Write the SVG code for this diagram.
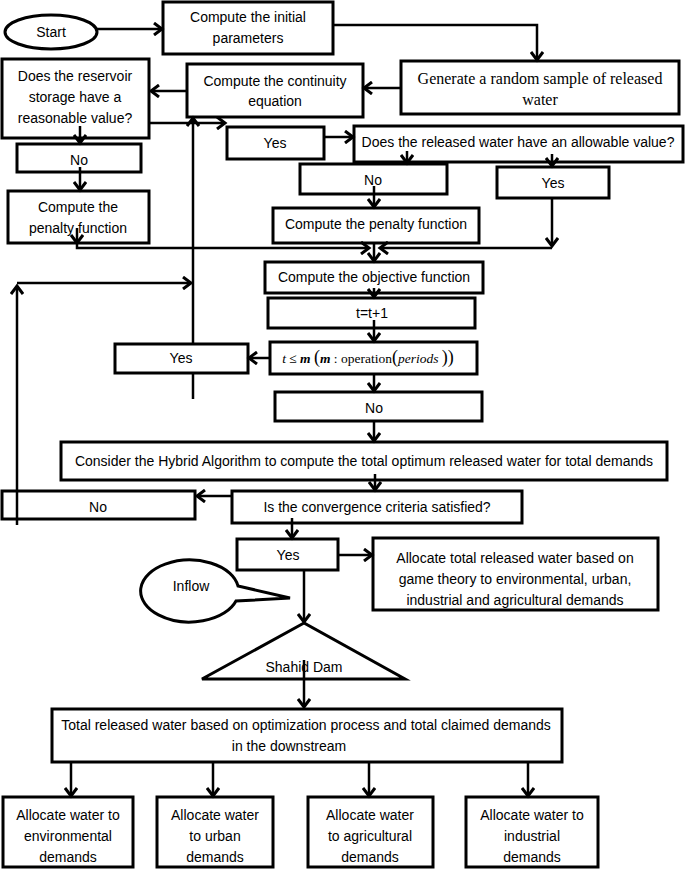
<svg xmlns="http://www.w3.org/2000/svg" width="685" height="870" viewBox="0 0 685 870">
<style>
.box{fill:#fff;stroke:#000;stroke-width:3}
.t{font-family:"Liberation Sans",Arial,sans-serif;font-size:14px;fill:#000;text-anchor:middle}
.s{font-family:"Liberation Serif","Times New Roman",serif;font-size:16px;fill:#000;text-anchor:middle}
.c{fill:none;stroke:#000;stroke-width:2.5}
.a{fill:none;stroke:#000;stroke-width:2.5;marker-end:url(#ah)}
</style>
<defs>
<marker id="ah" markerUnits="userSpaceOnUse" markerWidth="14" markerHeight="14" viewBox="0 0 14 14" refX="11" refY="7" orient="auto">
<path d="M3,1 L11,7 L3,13" fill="none" stroke="#000" stroke-width="3"/>
</marker>
</defs>
<rect width="685" height="870" fill="#fff"/>
<g id="start"><ellipse class="box" cx="51" cy="32" rx="46" ry="17"/><text class="t" x="51" y="37">Start</text></g>
<g id="initial"><rect class="box" x="163" y="2" width="170" height="52"/><text class="t" x="248" y="22">Compute the initial</text><text class="t" x="248" y="43">parameters</text></g>
<g id="generate"><rect class="box" x="401" y="61" width="278" height="53"/><text class="s" x="540" y="84">Generate a random sample of released</text><text class="s" x="540" y="105">water</text></g>
<g id="continuity"><rect class="box" x="187" y="64" width="176" height="53"/><text class="t" x="275" y="86">Compute the continuity</text><text class="t" x="275" y="106">equation</text></g>
<g id="reservoir"><rect class="box" x="2" y="59" width="147" height="79"/><text class="t" x="75" y="81">Does the reservoir</text><text class="t" x="75" y="102">storage have a</text><text class="t" x="75" y="123">reasonable value?</text></g>
<g id="no1"><rect class="box" x="17" y="144" width="124" height="28"/><text class="t" x="79" y="165">No</text></g>
<g id="penalty1"><rect class="box" x="8" y="191" width="141" height="52"/><text class="t" x="78" y="212">Compute the</text><text class="t" x="78" y="233">penalty function</text></g>
<g id="yes1"><rect class="box" x="227" y="127" width="97" height="32"/><text class="t" x="275" y="148">Yes</text></g>
<g id="released"><rect class="box" x="354" y="126" width="329" height="36"/><text class="t" x="518" y="147">Does the released water have an allowable value?</text></g>
<g id="no2"><rect class="box" x="300" y="164" width="147" height="30"/><text class="t" x="373" y="185">No</text></g>
<g id="yes2"><rect class="box" x="497" y="167" width="112" height="31"/><text class="t" x="553" y="188">Yes</text></g>
<g id="penalty2"><rect class="box" x="273" y="208" width="206" height="35"/><text class="t" x="376" y="229">Compute the penalty function</text></g>
<g id="objective"><rect class="box" x="265" y="262" width="218" height="31"/><text class="t" x="374" y="282">Compute the objective function</text></g>
<g id="increment"><rect class="box" x="268" y="298" width="207" height="30"/><text class="t" x="372" y="318">t=t+1</text></g>
<g id="condition"><rect class="box" x="270" y="342" width="207" height="32"/><text x="368" y="363" font-family="Liberation Serif,Times New Roman,serif" font-size="13.5" text-anchor="middle"><tspan font-style="italic">t</tspan> ≤ <tspan font-weight="bold" font-style="italic">m</tspan> <tspan font-size="18">(</tspan><tspan font-weight="bold" font-style="italic">m</tspan> : operation<tspan font-size="18">(</tspan><tspan font-style="italic">periods</tspan> <tspan font-size="18">))</tspan></text></g>
<g id="yes3"><rect class="box" x="115" y="344" width="133" height="29"/><text class="t" x="181" y="363">Yes</text></g>
<g id="no3"><rect class="box" x="275" y="392" width="207" height="29"/><text class="t" x="374" y="413">No</text></g>
<g id="hybrid"><rect class="box" x="61" y="442" width="606" height="38"/><text class="t" x="364" y="466">Consider the Hybrid Algorithm to compute the total optimum released water for total demands</text></g>
<g id="convergence"><rect class="box" x="232" y="491" width="290" height="32"/><text class="t" x="377" y="512">Is the convergence criteria satisfied?</text></g>
<g id="no4"><rect class="box" x="2" y="491" width="193" height="28"/><text class="t" x="98" y="512">No</text></g>
<g id="yes4"><rect class="box" x="237" y="539" width="101" height="31"/><text class="t" x="288" y="560">Yes</text></g>
<g id="allocate-total"><rect class="box" x="373" y="538" width="285" height="72"/><text class="t" x="515" y="563">Allocate total released water based on</text><text class="t" x="515" y="584">game theory to environmental, urban,</text><text class="t" x="515" y="605">industrial and agricultural demands</text></g>
<g id="inflow"><path class="box" d="M238,586 A49,31 0 1 0 236,601 L290,598 Z"/><text class="t" x="191" y="591">Inflow</text></g>
<g id="dam"><polygon class="box" points="304,623 202,679 405,679"/><text class="t" x="304" y="672">Shahid Dam</text></g>
<g id="total"><rect class="box" x="52" y="709" width="510" height="53"/><text class="t" x="306" y="730">Total released water based on optimization process and total claimed demands</text><text class="t" x="289" y="751">in the downstream</text></g>
<g id="env"><rect class="box" x="3" y="797" width="130" height="70"/><text class="t" x="68" y="820">Allocate water to</text><text class="t" x="68" y="841">environmental</text><text class="t" x="68" y="862">demands</text></g>
<g id="urban"><rect class="box" x="157" y="797" width="116" height="70"/><text class="t" x="215" y="820">Allocate water</text><text class="t" x="215" y="841">to urban</text><text class="t" x="215" y="862">demands</text></g>
<g id="agri"><rect class="box" x="308" y="797" width="125" height="70"/><text class="t" x="370" y="820">Allocate water</text><text class="t" x="370" y="841">to agricultural</text><text class="t" x="370" y="862">demands</text></g>
<g id="ind"><rect class="box" x="466" y="797" width="132" height="70"/><text class="t" x="532" y="820">Allocate water to</text><text class="t" x="532" y="841">industrial</text><text class="t" x="532" y="862">demands</text></g>
<g id="connectors">
<line class="a" x1="97" y1="29" x2="162" y2="29"/>
<path class="a" d="M333,25 H537 V60"/>
<line class="a" x1="401" y1="88" x2="364" y2="88"/>
<line class="a" x1="187" y1="91" x2="151" y2="91"/>
<line class="a" x1="150" y1="123" x2="225" y2="123"/>
<line class="c" x1="193" y1="399" x2="193" y2="373"/>
<line class="a" x1="193" y1="344" x2="193" y2="118"/>
<line class="a" x1="80" y1="126" x2="80" y2="143"/>
<line class="a" x1="80" y1="167" x2="80" y2="190"/>
<line class="a" x1="77" y1="228" x2="77" y2="243"/>
<path class="a" d="M77,243 V248 H369"/>
<line class="a" x1="324" y1="137" x2="353" y2="137"/>
<line class="a" x1="407" y1="151" x2="407" y2="163"/>
<line class="a" x1="552" y1="154" x2="552" y2="166"/>
<line class="a" x1="374" y1="186" x2="374" y2="207"/>
<line class="a" x1="552" y1="198" x2="552" y2="246"/>
<line class="a" x1="552" y1="248" x2="380" y2="248"/>
<line class="a" x1="374" y1="243" x2="374" y2="261"/>
<line class="a" x1="374" y1="288" x2="374" y2="297"/>
<line class="a" x1="374" y1="320" x2="374" y2="341"/>
<line class="a" x1="270" y1="358" x2="249" y2="358"/>
<line class="a" x1="374" y1="374" x2="374" y2="391"/>
<line class="a" x1="374" y1="421" x2="374" y2="441"/>
<line class="a" x1="375" y1="474" x2="375" y2="490"/>
<line class="a" x1="232" y1="496" x2="197" y2="496"/>
<line class="a" x1="17" y1="525" x2="17" y2="286"/>
<line class="a" x1="17" y1="283" x2="191" y2="283"/>
<line class="a" x1="292" y1="518" x2="292" y2="538"/>
<line class="a" x1="338" y1="555" x2="372" y2="555"/>
<line class="a" x1="304" y1="570" x2="304" y2="622"/>
<line class="a" x1="304" y1="660" x2="304" y2="707"/>
<line class="a" x1="71" y1="762" x2="71" y2="796"/>
<line class="a" x1="213" y1="762" x2="213" y2="796"/>
<line class="a" x1="369" y1="762" x2="369" y2="796"/>
<line class="a" x1="528" y1="762" x2="528" y2="796"/>
</g>
</svg>
